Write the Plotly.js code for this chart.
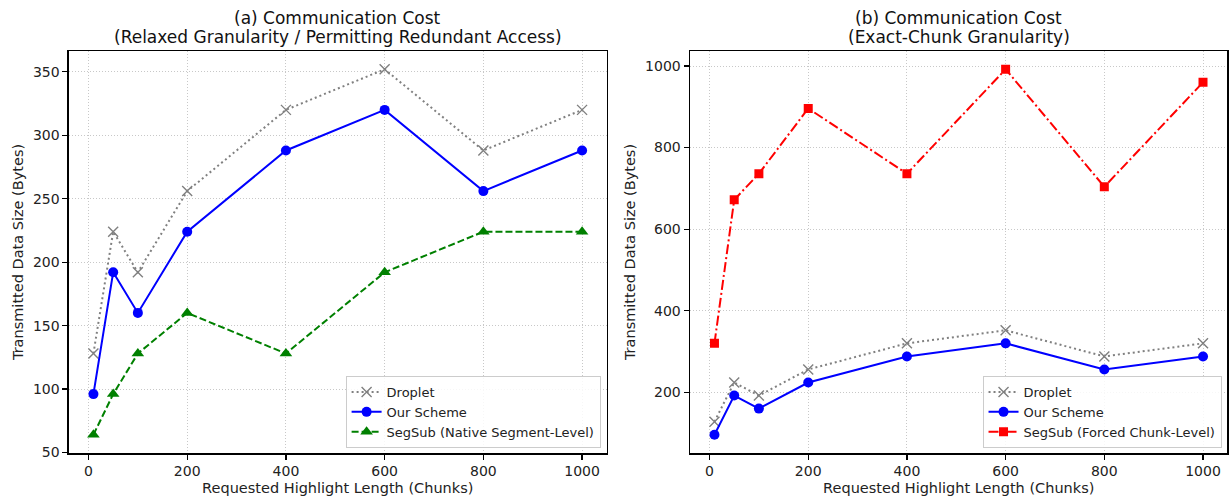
<!DOCTYPE html>
<html>
<head>
<meta charset="utf-8">
<script src="https://cdn.plot.ly/plotly-3.0.1.min.js"></script>
<style>html,body{margin:0;padding:0;background:#fff;}#chart{width:1232px;height:500px;}</style>
</head>
<body>
<div id="chart"></div>
<script>
const lengths = [10, 50, 100, 200, 400, 600, 800, 1000];
const droplet = [128, 224, 192, 256, 320, 352, 288, 320];
const ourScheme = [96, 192, 160, 224, 288, 320, 256, 288];
const segSubNative = [64, 96, 128, 160, 128, 192, 224, 224];
const segSubForced = [320, 672, 736, 896, 736, 992, 704, 960];

const titleA1 = "(a) Communication Cost";
const titleA2 = "(Relaxed Granularity / Permitting Redundant Access)";
const titleB1 = "(b) Communication Cost";
const titleB2 = "(Exact-Chunk Granularity)";
const xTitle = "Requested Highlight Length (Chunks)";
const yTitle = "Transmitted Data Size (Bytes)";

const FONT = "DejaVu Sans, sans-serif";

function dropletTrace(xa, ya, leg) {
  return {x: lengths, y: droplet, xaxis: xa, yaxis: ya, name: "Droplet", legend: leg,
    mode: "lines+markers", line: {color: "gray", width: 2, dash: "2px,3px"},
    marker: {symbol: "x-thin", size: 10, color: "gray", line: {color: "gray", width: 1.4}}};
}
function ourTrace(xa, ya, leg) {
  return {x: lengths, y: ourScheme, xaxis: xa, yaxis: ya, name: "Our Scheme", legend: leg,
    mode: "lines+markers", line: {color: "blue", width: 2},
    marker: {symbol: "circle", size: 10, color: "blue"}};
}
const traces = [
  dropletTrace("x", "y", "legend"),
  ourTrace("x", "y", "legend"),
  {x: lengths, y: segSubNative, xaxis: "x", yaxis: "y", name: "SegSub (Native Segment-Level)", legend: "legend",
    mode: "lines+markers", line: {color: "green", width: 2, dash: "7px,3px"},
    marker: {symbol: "triangle-up", size: 11, color: "green"}},
  dropletTrace("x2", "y2", "legend2"),
  ourTrace("x2", "y2", "legend2"),
  {x: lengths, y: segSubForced, xaxis: "x2", yaxis: "y2", name: "SegSub (Forced Chunk-Level)", legend: "legend2",
    mode: "lines+markers", line: {color: "red", width: 2, dash: "10px,3px,2px,3px"},
    marker: {symbol: "square", size: 9, color: "red"}}
];

const TF = {family: FONT, size: 14.5, color: "#222"};
const axBase = {
  showline: true, linecolor: "black", linewidth: 1.5, mirror: true,
  ticks: "outside", ticklen: 5, tickwidth: 1.2, tickcolor: "black",
  showgrid: true, gridcolor: "#c8c8c8", gridwidth: 1, griddash: "1px,2px",
  zeroline: false, tickfont: {family: FONT, size: 14, color: "#222"}
};
function ax(extra) { return Object.assign(JSON.parse(JSON.stringify(axBase)), extra); }

const xTicks = [0, 200, 400, 600, 800, 1000];
const leftYTicks = [50, 100, 150, 200, 250, 300, 350];
const rightYTicks = [200, 400, 600, 800, 1000];

const legBase = {
  font: {family: FONT, size: 13, color: "#222"}, bgcolor: "rgba(255,255,255,0.85)",
  bordercolor: "#cccccc", borderwidth: 1, xanchor: "right", yanchor: "bottom", tracegroupgap: 0,
  itemwidth: 30
};

function titleAnn(text, x, yPx) {
  return {text: text, xref: "paper", yref: "paper", x: x, y: 1 - yPx / 500, xanchor: "center", yanchor: "middle",
    showarrow: false, font: {family: FONT, size: 17, color: "#111"}};
}

const layout = {
  width: 1232, height: 500, margin: {l: 0, r: 0, t: 0, b: 0},
  paper_bgcolor: "white", plot_bgcolor: "white",
  font: {family: FONT, size: 13, color: "#222"},
  xaxis: ax({domain: [0.0560, 0.4923], range: [-39.5, 1049.5], tickvals: xTicks, anchor: "y",
    title: {text: xTitle, font: TF, standoff: 4}}),
  yaxis: ax({domain: [0.094, 0.898], range: [49.6, 366.4], tickvals: leftYTicks, anchor: "x",
    title: {text: yTitle, font: TF, standoff: 6}}),
  xaxis2: ax({domain: [0.5601, 0.9963], range: [-39.5, 1049.5], tickvals: xTicks, anchor: "y2",
    title: {text: xTitle, font: TF, standoff: 4}}),
  yaxis2: ax({domain: [0.094, 0.898], range: [51.2, 1036.8], tickvals: rightYTicks, anchor: "x2",
    title: {text: yTitle, font: TF, standoff: 6}}),
  legend: Object.assign({}, legBase, {x: 0.4875, y: 0.104}),
  legend2: Object.assign({}, legBase, {x: 0.9915, y: 0.104}),
  annotations: [
    titleAnn(titleA1, 0.2742, 18),
    titleAnn(titleA2, 0.2742, 37),
    titleAnn(titleB1, 0.7782, 18),
    titleAnn(titleB2, 0.7782, 37)
  ]
};

Plotly.newPlot("chart", traces, layout, {displayModeBar: false, staticPlot: true});
</script>
</body>
</html>
